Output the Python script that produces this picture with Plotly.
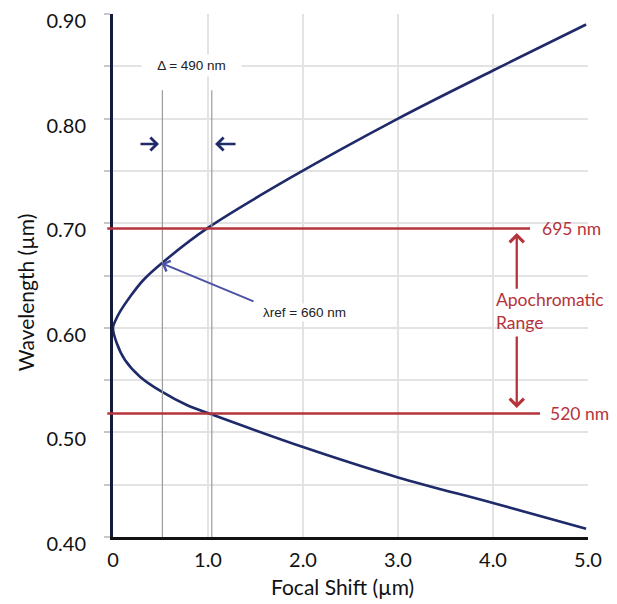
import plotly.graph_objects as go

# Data (focal shift in µm, wavelength in µm)
focal_shift = [4.98, 4.0, 3.0, 2.0, 1.056, 0.776, 0.513, 0.284, 0.126, 0.04, 0.0,
               0.02, 0.074, 0.18, 0.32, 0.513, 0.99, 1.86, 3.0, 4.0, 4.98]
wavelength = [0.408, 0.4325, 0.457, 0.486, 0.5166, 0.5262, 0.5389, 0.5533, 0.5692, 0.5852, 0.600,
              0.6058, 0.6154, 0.6297, 0.6457, 0.6617, 0.695, 0.743, 0.800, 0.846, 0.890]

apo_lines = [0.695, 0.518]
apo_labels = ["695 nm", "520 nm"]
delta_lines = [0.52, 1.04]
lambda_ref = (0.513, 0.6617)

x_ticks = [0, 1, 2, 3, 4, 5]
x_ticktext = ["0", "1.0", "2.0", "3.0", "4.0", "5.0"]

NAVY = "#1e2a6a"
RED = "#b5333b"
GRID = "#e3e3e3"
FONT = "Lato"

fig = go.Figure()
fig.add_trace(go.Scatter(x=focal_shift, y=wavelength, mode="lines",
                         line=dict(color=NAVY, width=2.6, shape="spline", smoothing=1.0),
                         hoverinfo="skip", showlegend=False))

# thin vertical reference lines
for xv in delta_lines:
    fig.add_shape(type="line", xref="x", yref="y", x0=xv, x1=xv, y0=0.40, y1=0.827,
                  line=dict(color="#9c9c9c", width=1.2), layer="above")

# red apochromatic limits
ends = [0.878, 0.899]
for yv, x1 in zip(apo_lines, ends):
    fig.add_shape(type="line", xref="paper", yref="y", x0=-0.012, x1=x1, y0=yv, y1=yv,
                  line=dict(color=RED, width=2.4), layer="above")

ann = []
ann.append(dict(x=4.495, y=apo_lines[0], xref="x", yref="y", text=apo_labels[0], showarrow=False,
                xanchor="left", font=dict(family=FONT, size=17.5, color=RED)))
ann.append(dict(x=4.58, y=apo_lines[1], xref="x", yref="y", text=apo_labels[1], showarrow=False,
                xanchor="left", font=dict(family=FONT, size=17.5, color=RED)))
ann.append(dict(x=4.01, y=0.6275, xref="x", yref="y", text="Apochromatic", showarrow=False,
                xanchor="left", font=dict(family=FONT, size=17.5, color=RED)))
ann.append(dict(x=4.01, y=0.6046, xref="x", yref="y", text="Range", showarrow=False,
                xanchor="left", font=dict(family=FONT, size=17.5, color=RED)))
# red vertical arrows
ann.append(dict(x=4.25, y=0.6906, ax=4.25, ay=0.636, xref="x", yref="y", axref="x", ayref="y",
                text="", showarrow=True, arrowhead=4, arrowsize=1.2, arrowwidth=2.3, arrowcolor=RED))
ann.append(dict(x=4.25, y=0.5233, ax=4.25, ay=0.593, xref="x", yref="y", axref="x", ayref="y",
                text="", showarrow=True, arrowhead=4, arrowsize=1.2, arrowwidth=2.3, arrowcolor=RED))
# delta label
ann.append(dict(x=0.83, y=0.851, xref="x", yref="y", text="Δ = 490 nm", showarrow=False,
                bgcolor="white", width=97, height=19,
                font=dict(family="Liberation Sans", size=13.5, color="#222")))
# small navy arrows pointing at the delta lines
ann.append(dict(x=0.484, y=0.7757, xref="x", yref="y", ax=-20, ay=0, text="", showarrow=True,
                arrowhead=4, arrowsize=1.1, arrowwidth=2.3, arrowcolor=NAVY))
ann.append(dict(x=1.074, y=0.7757, xref="x", yref="y", ax=22, ay=0, text="", showarrow=True,
                arrowhead=4, arrowsize=1.1, arrowwidth=2.3, arrowcolor=NAVY))
# lambda ref
ann.append(dict(x=lambda_ref[0], y=lambda_ref[1], ax=1.495, ay=0.6247, xref="x", yref="y",
                axref="x", ayref="y", text="", showarrow=True, arrowhead=4, arrowsize=1.1,
                arrowwidth=2, arrowcolor="#4b52a8"))
ann.append(dict(x=2.02, y=0.615, xref="x", yref="y", text="λref = 660 nm", showarrow=False,
                bgcolor="white", font=dict(family="Liberation Sans", size=13.5, color="#222")))
# axis titles
ann.append(dict(x=-0.185, y=0.4665, xref="paper", yref="paper", text="Wavelength (µm)",
                xanchor="center", yanchor="middle",
                textangle=-90, showarrow=False, font=dict(family=FONT, size=21, color="#111")))
ann.append(dict(x=0.484, y=-0.094, xref="paper", yref="paper", text="Focal Shift (µm)",
                xanchor="center", yanchor="middle",
                showarrow=False, font=dict(family=FONT, size=21, color="#111")))

# page body has an 8px margin: shrink figure so the plot area lands where the reference has it
fig.update_layout(
    width=609, height=596,
    margin=dict(l=105, r=29, t=6, b=67),
    paper_bgcolor="white", plot_bgcolor="white",
    annotations=ann, showlegend=False,
    font=dict(family=FONT, size=20, color="#111"),
)
fig.update_xaxes(range=[0, 5], tickvals=x_ticks, ticktext=x_ticktext, automargin=False,
                 showgrid=True, gridcolor=GRID, gridwidth=2, zeroline=False,
                 showline=True, linecolor="#111", linewidth=3,
                 ticks="outside", ticklen=3, tickcolor="rgba(0,0,0,0)",
                 ticklabeloverflow="allow",
                 tickfont=dict(family=FONT, size=20, color="#111"))
fig.update_yaxes(range=[0.40, 0.90], dtick=0.1, tickformat=".2f", automargin=False,
                 showgrid=True, gridcolor=GRID, gridwidth=2, zeroline=False,
                 showline=True, linecolor="#141a3a", linewidth=3,
                 ticks="outside", ticklen=6, tickcolor="#c8c8c8", tickwidth=2,
                 ticklabelstandoff=14, ticklabelshift=7, ticklabeloverflow="allow",
                 minor=dict(dtick=0.05, showgrid=True, gridcolor=GRID, gridwidth=2,
                            ticks="outside", ticklen=6, tickcolor="#c8c8c8", tickwidth=2),
                 tickfont=dict(family=FONT, size=20, color="#111"))

fig.write_html("out.html")
